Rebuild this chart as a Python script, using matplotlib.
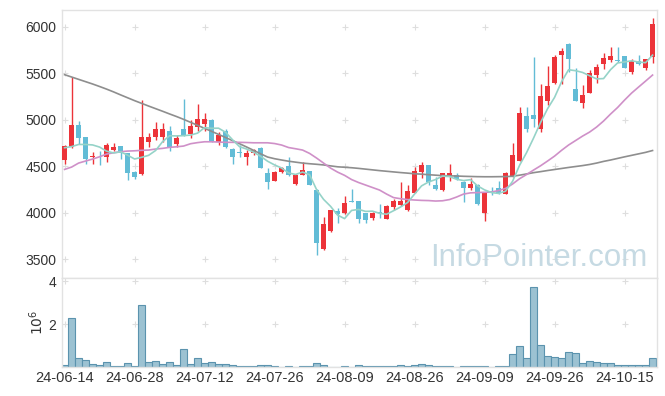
import matplotlib
matplotlib.use("Agg")
import matplotlib.pyplot as plt
import numpy as np

plt.rcParams['font.family'] = ['Liberation Sans', 'DejaVu Sans']

# daily candles (index 0 = 24-06-14)
opens = [4570, 4710, 4945, 4810, 4595, 4605, 4605, 4678, 4718, 4640,
         4440, 4415, 4765, 4812, 4818, 4880, 4740, 4900, 4848, 4925,
         4955, 5000, 4760, 4875, 4690, 4650, 4595, 4640, 4700, 4430,
         4345, 4440, 4500, 4310, 4410, 4450, 4250, 3610, 3800, 4020,
         3995, 4130, 4125, 3995, 3940, 4005, 3935, 4065, 4085, 4030,
         4215, 4442, 4512, 4300, 4245, 4395, 4412, 4335, 4270, 4300,
         4000, 4230, 4270, 4205, 4390, 4560, 5040, 5050, 4900, 5205,
         5400, 5695, 5820, 5330, 5185, 5290, 5480, 5595, 5642, 5640,
         5685, 5515, 5630, 5560, 5680]
highs = [4730, 5460, 4990, 4815, 4655, 4665, 4750, 4750, 4720, 4645,
         4445, 5210, 4860, 4980, 4965, 4930, 4835, 5220, 4995, 5170,
         5070, 5005, 4870, 4905, 4695, 4730, 4675, 4690, 4710, 4480,
         4450, 4490, 4600, 4420, 4550, 4455, 4255, 3960, 4035, 4050,
         4180, 4255, 4130, 4000, 4010, 4100, 4080, 4145, 4330, 4300,
         4495, 4550, 4515, 4390, 4430, 4525, 4430, 4340, 4370, 4305,
         4215, 4280, 4340, 4440, 4750, 5135, 5140, 5670, 5390, 5580,
         5695, 5770, 5825, 5555, 5375, 5530, 5600, 5720, 5780, 5780,
         5690, 5650, 5695, 5655, 6090]
lows = [4525, 4700, 4745, 4530, 4520, 4515, 4550, 4670, 4575, 4350,
        4365, 4410, 4705, 4785, 4765, 4660, 4710, 4825, 4800, 4875,
        4875, 4765, 4725, 4700, 4530, 4600, 4515, 4625, 4480, 4255,
        4340, 4430, 4400, 4300, 4405, 4295, 3545, 3600, 3795, 3890,
        3990, 4118, 3890, 3890, 3925, 3950, 3930, 4030, 4075, 4025,
        4210, 4380, 4300, 4250, 4240, 4340, 4355, 4120, 4245, 4085,
        3912, 4190, 4200, 4200, 4385, 4555, 4870, 4920, 4870, 5155,
        5390, 5380, 5515, 5200, 5125, 5285, 5395, 5545, 5620, 5625,
        5555, 5490, 5590, 5535, 5615]
closes = [4715, 4945, 4800, 4580, 4610, 4598, 4725, 4708, 4640, 4430,
          4390, 4815, 4815, 4898, 4905, 4710, 4805, 4830, 4930, 5008,
          5008, 4770, 4835, 4710, 4600, 4640, 4645, 4672, 4485, 4335,
          4440, 4480, 4405, 4405, 4460, 4300, 3680, 3880, 4030, 3990,
          4108, 4120, 3935, 3925, 4000, 3995, 4070, 4125, 4125, 4240,
          4450, 4512, 4335, 4255, 4425, 4425, 4365, 4265, 4305, 4090,
          4210, 4220, 4218, 4425, 4620, 5070, 4900, 5005, 5255, 5365,
          5680, 5742, 5650, 5205, 5270, 5505, 5570, 5665, 5685, 5630,
          5560, 5630, 5600, 5650, 6035]

# volume in millions of shares
volumes = [0.08, 2.28, 0.42, 0.33, 0.14, 0.09, 0.23, 0.04, 0.04, 0.19,
           0.04, 2.87, 0.23, 0.28, 0.14, 0.23, 0.09, 0.82, 0.14, 0.42,
           0.19, 0.23, 0.14, 0.14, 0.09, 0.04, 0.04, 0.04, 0.09, 0.09,
           0.03, 0.01, 0.04, 0.01, 0.04, 0.04, 0.20, 0.09, 0.01, 0.01,
           0.04, 0.01, 0.09, 0.04, 0.04, 0.04, 0.04, 0.04, 0.09, 0.04,
           0.09, 0.14, 0.09, 0.04, 0.04, 0.04, 0.01, 0.03, 0.03, 0.03,
           0.03, 0.01, 0.03, 0.07, 0.59, 0.96, 0.40, 3.75, 1.01, 0.50,
           0.45, 0.40, 0.68, 0.64, 0.17, 0.26, 0.23, 0.17, 0.17, 0.08,
           0.08, 0.08, 0.08, 0.08, 0.40]

# moving averages
ma5 = [4700, 4712, 4735, 4735, 4730, 4707, 4663, 4644, 4656, 4620,
       4579, 4597, 4618, 4670, 4765, 4829, 4827, 4830, 4836, 4857,
       4916, 4909, 4910, 4866, 4785, 4711, 4686, 4653, 4608, 4555,
       4515, 4482, 4429, 4413, 4438, 4410, 4250, 4145, 4070, 3976,
       3938, 4026, 4037, 4016, 4018, 3995, 3985, 4023, 4063, 4111,
       4202, 4290, 4332, 4358, 4395, 4390, 4361, 4347, 4357, 4290,
       4247, 4218, 4209, 4233, 4339, 4511, 4647, 4804, 4970, 5119,
       5241, 5409, 5538, 5528, 5509, 5474, 5440, 5443, 5539, 5611,
       5622, 5634, 5621, 5614, 5695]
ma20 = [4467, 4492, 4535, 4557, 4578, 4603, 4632, 4646, 4657, 4664,
        4667, 4672, 4675, 4686, 4693, 4704, 4710, 4718, 4743, 4755,
        4764, 4764, 4761, 4758, 4758, 4758, 4756, 4753, 4753, 4753,
        4745, 4729, 4702, 4689, 4675, 4639, 4589, 4535, 4481, 4438,
        4403, 4358, 4326, 4299, 4272, 4245, 4202, 4164, 4152, 4143,
        4138, 4134, 4132, 4127, 4130, 4143, 4170, 4202, 4215, 4218,
        4221, 4224, 4240, 4263, 4310, 4367, 4412, 4460, 4506, 4557,
        4610, 4672, 4729, 4777, 4825, 4868, 4922, 4987, 5062, 5132,
        5212, 5287, 5352, 5416, 5481]
ma120 = [5485, 5460, 5435, 5410, 5385, 5358, 5330, 5300, 5268, 5237,
         5206, 5177, 5148, 5120, 5092, 5063, 5035, 5005, 4973, 4941,
         4908, 4876, 4843, 4810, 4776, 4743, 4708, 4672, 4635, 4600,
         4582, 4568, 4555, 4545, 4535, 4528, 4522, 4515, 4505, 4495,
         4490, 4485, 4478, 4470, 4462, 4454, 4447, 4440, 4433, 4427,
         4420, 4416, 4410, 4405, 4400, 4398, 4396, 4393, 4391, 4389,
         4388, 4388, 4389, 4390, 4393, 4405, 4418, 4432, 4443, 4455,
         4466, 4477, 4488, 4498, 4508, 4520, 4535, 4553, 4568, 4585,
         4602, 4618, 4634, 4650, 4670]

tick_pos = [0, 10, 20, 30, 40, 50, 60, 70, 80]
tick_labels = ['24-06-14', '24-06-28', '24-07-12', '24-07-26', '24-08-09',
               '24-08-26', '24-09-09', '24-09-26', '24-10-15']
price_ticks = [3500, 4000, 4500, 5000, 5500, 6000]
vol_ticks = [2, 4]

UP = '#ec3339'
DOWN = '#62bcd6'
BORDER = '#e2e2e2'
TXT = '#333333'


def style_axis(ax, yticks):
    for s in ax.spines.values():
        s.set_color(BORDER)
        s.set_linewidth(1.0)
    ax.tick_params(length=0, labelsize=10, labelcolor=TXT, pad=4)
    ax.set_yticks(yticks)
    ax.set_xticks(tick_pos)
    # little '+' marks where grid lines would cross
    gx, gy = np.meshgrid(tick_pos, yticks)
    ax.scatter(gx.ravel(), gy.ravel(), marker='+', s=24, c='#dedede',
               linewidths=0.8, zorder=0, clip_on=True)


fig = plt.figure(figsize=(6.65, 3.96), dpi=100)
ax = fig.add_axes([0.0928, 0.298, 0.8947, 0.6767])
axv = fig.add_axes([0.0928, 0.0732, 0.8947, 0.2248], sharex=ax)

x = np.arange(len(closes))
o = np.array(opens)
c = np.array(closes)
colors = [UP if cc >= oo else DOWN for oo, cc in zip(o, c)]

ax.vlines(x, lows, highs, colors=colors, linewidth=1.0, zorder=2)
ax.bar(x, np.abs(c - o), bottom=np.minimum(o, c), width=0.72,
       color=colors, zorder=3)

ax.plot(x, ma120, color='#8e8e8e', lw=1.2, zorder=4)
ax.plot(x, ma20, color='#cf90c8', lw=1.2, zorder=4)
ax.plot(x, ma5, color='#95d3c8', lw=1.2, zorder=4)

ax.text(0.985, 0.043, 'InfoPointer.com', transform=ax.transAxes,
        ha='right', va='baseline', fontsize=22.5, color='#c6dae3', zorder=1)

ax.set_ylim(3300, 6180)
style_axis(ax, price_ticks)
ax.tick_params(axis='x', labelbottom=False)

axv.bar(x, volumes, width=1.0, color='#9cc2d2', edgecolor='#5b93ae',
        linewidth=0.8, zorder=2)
axv.set_ylim(0, 4.15)
style_axis(axv, vol_ticks)
axv.set_xticklabels(tick_labels)
axv.tick_params(axis='x', labelsize=10.5, pad=3)
axv.set_ylabel(r'$10^6$', color=TXT, fontsize=10, labelpad=2)
axv.set_xlim(-0.41, 84.59)

plt.savefig('out.png', dpi=100)
